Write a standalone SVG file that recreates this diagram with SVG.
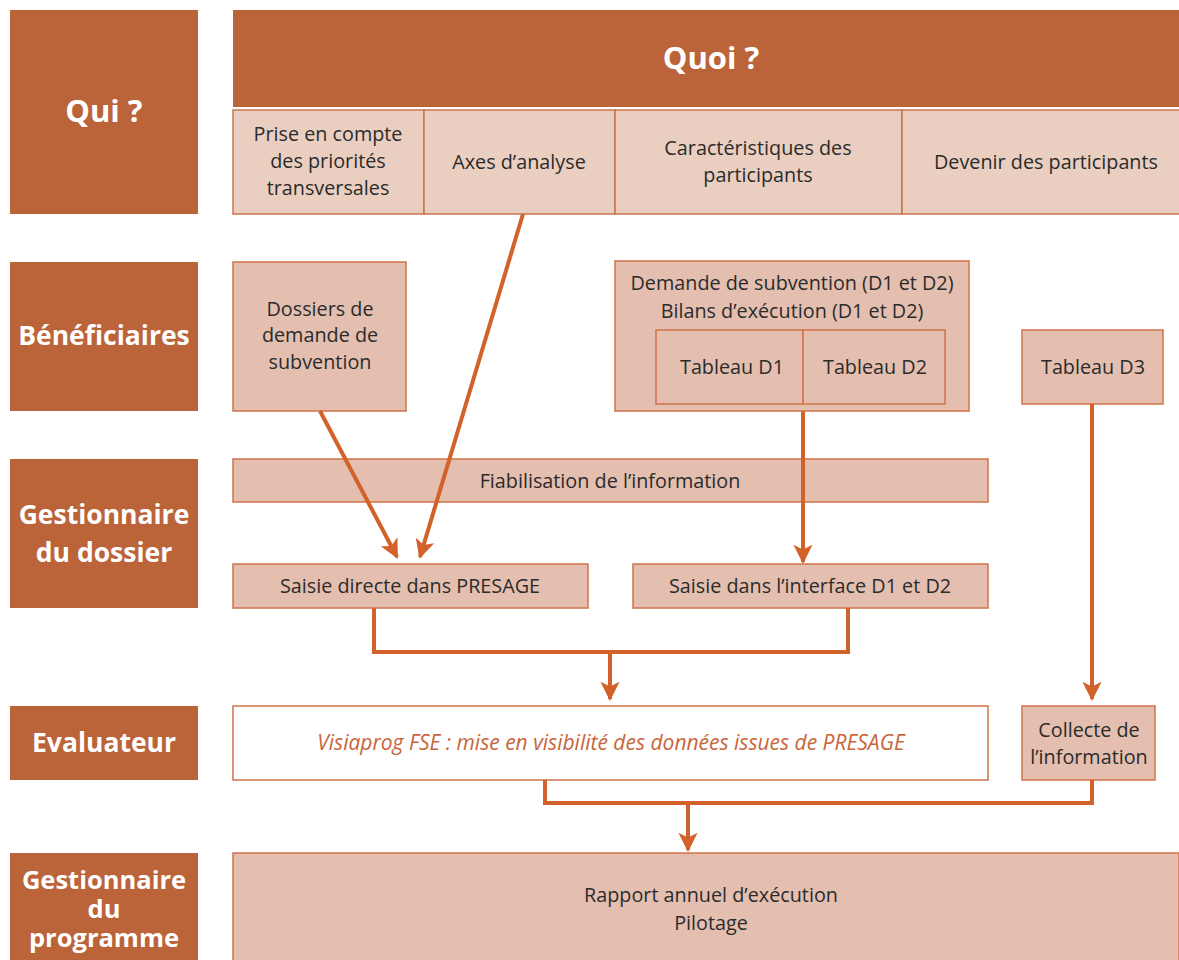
<svg xmlns="http://www.w3.org/2000/svg" width="1179" height="960" viewBox="0 0 1179 960">
<defs>
<style>
.lbl{fill:#bc6439;}
.lt{font-family:"Open Sans","Noto Sans",sans-serif;font-weight:bold;font-size:26.5px;fill:#fff;text-anchor:middle;}
.hd{fill:#eacfc1;stroke:#c9744d;stroke-width:1.5;}
.bx{fill:#e4bfb0;stroke:#d0734a;stroke-width:1.5;}
.t{font-family:"Open Sans","Noto Sans",sans-serif;font-size:19.8px;fill:#2b2b2b;text-anchor:middle;}
.c{fill:none;stroke:#d2622a;stroke-width:4;}
</style>
<marker id="ah" viewBox="0 0 10 10" refX="9" refY="5" markerWidth="4.8" markerHeight="4.8" markerUnits="strokeWidth" orient="auto">
<path d="M0,0 L10,5 L0,10 L2.5,5 z" fill="#d2622a"/>
</marker>
</defs>
<rect width="1179" height="960" fill="#fff"/>

<g id="qui"><rect class="lbl" x="10" y="10" width="188" height="204"/><text class="lt" x="104" y="122" style="font-size:31px">Qui ?</text></g>
<g id="beneficiaires"><rect class="lbl" x="10" y="262" width="188" height="149"/><text class="lt" x="104" y="345">Bénéficiaires</text></g>
<g id="gestionnaire-dossier"><rect class="lbl" x="10" y="459" width="188" height="149"/><text class="lt" x="104" y="524">Gestionnaire</text><text class="lt" x="104" y="562">du dossier</text></g>
<g id="evaluateur"><rect class="lbl" x="10" y="706" width="188" height="74"/><text class="lt" x="104" y="752">Evaluateur</text></g>
<g id="gestionnaire-programme"><rect class="lbl" x="10" y="853" width="188" height="110"/><text class="lt" x="104" y="889" style="font-size:25.5px">Gestionnaire</text><text class="lt" x="104" y="918" style="font-size:25.5px">du</text><text class="lt" x="104" y="947" style="font-size:25.5px">programme</text></g>

<g id="quoi"><rect class="lbl" x="233" y="10" width="946" height="97"/><text class="lt" x="711" y="69" style="font-size:31px">Quoi ?</text></g>
<g id="prise"><rect class="hd" x="233" y="110" width="191" height="104"/><text class="t" x="328" y="141">Prise en compte</text><text class="t" x="328" y="168">des priorités</text><text class="t" x="328" y="195">transversales</text></g>
<g id="axes"><rect class="hd" x="424" y="110" width="191" height="104"/><text class="t" x="519" y="169">Axes d’analyse</text></g>
<g id="caract"><rect class="hd" x="615" y="110" width="287" height="104"/><text class="t" x="758" y="155">Caractéristiques des</text><text class="t" x="758" y="182">participants</text></g>
<g id="devenir"><rect class="hd" x="902" y="110" width="278" height="104"/><text class="t" x="1046" y="169">Devenir des participants</text></g>

<g id="dossiers"><rect class="bx" x="233" y="262" width="173" height="149"/><text class="t" x="320" y="316">Dossiers de</text><text class="t" x="320" y="342">demande de</text><text class="t" x="320" y="369">subvention</text></g>
<g id="demande"><rect class="bx" x="615" y="261" width="354" height="150"/><text class="t" x="792" y="290">Demande de subvention (D1 et D2)</text><text class="t" x="792" y="318">Bilans d’exécution (D1 et D2)</text></g>
<g id="tableau-d1"><rect class="bx" x="656" y="330" width="147" height="74"/><text class="t" x="732" y="374">Tableau D1</text></g>
<g id="tableau-d2"><rect class="bx" x="803" y="330" width="142" height="74"/><text class="t" x="875" y="374">Tableau D2</text></g>
<g id="tableau-d3"><rect class="bx" x="1022" y="330" width="141" height="74"/><text class="t" x="1093" y="374">Tableau D3</text></g>
<g id="fiabilisation"><rect class="bx" x="233" y="459" width="755" height="43"/><text class="t" x="610" y="488">Fiabilisation de l’information</text></g>
<g id="saisie-directe"><rect class="bx" x="233" y="564" width="355" height="44"/><text class="t" x="410" y="593">Saisie directe dans PRESAGE</text></g>
<g id="saisie-interface"><rect class="bx" x="633" y="564" width="355" height="44"/><text class="t" x="810" y="593">Saisie dans l’interface D1 et D2</text></g>
<g id="visiaprog"><rect x="233" y="706" width="755" height="74" fill="#fff" stroke="#d0734a" stroke-width="1.5"/><text class="t" x="611" y="750" style="font-style:italic;fill:#c9653a;font-size:21px">Visiaprog FSE : mise en visibilité des données issues de PRESAGE</text></g>
<g id="collecte"><rect class="bx" x="1022" y="706" width="133" height="74"/><text class="t" x="1089" y="737">Collecte de</text><text class="t" x="1089" y="764">l’information</text></g>
<g id="rapport"><rect class="bx" x="233" y="853" width="946" height="110"/><text class="t" x="711" y="902">Rapport annuel d’exécution</text><text class="t" x="711" y="930">Pilotage</text></g>

<g id="connectors">
<path class="c" d="M320,411 L397,557" marker-end="url(#ah)"/>
<path class="c" d="M523,214 L420,557" marker-end="url(#ah)"/>
<path class="c" d="M803,411 L803,562" marker-end="url(#ah)"/>
<path class="c" d="M374,608 L374,652 L848,652 L848,608"/>
<path class="c" d="M610,652 L610,699" marker-end="url(#ah)"/>
<path class="c" d="M1092,404 L1092,699" marker-end="url(#ah)"/>
<path class="c" d="M545,780 L545,803 L1092,803 L1092,780"/>
<path class="c" d="M688,803 L688,850" marker-end="url(#ah)"/>
</g>
</svg>
